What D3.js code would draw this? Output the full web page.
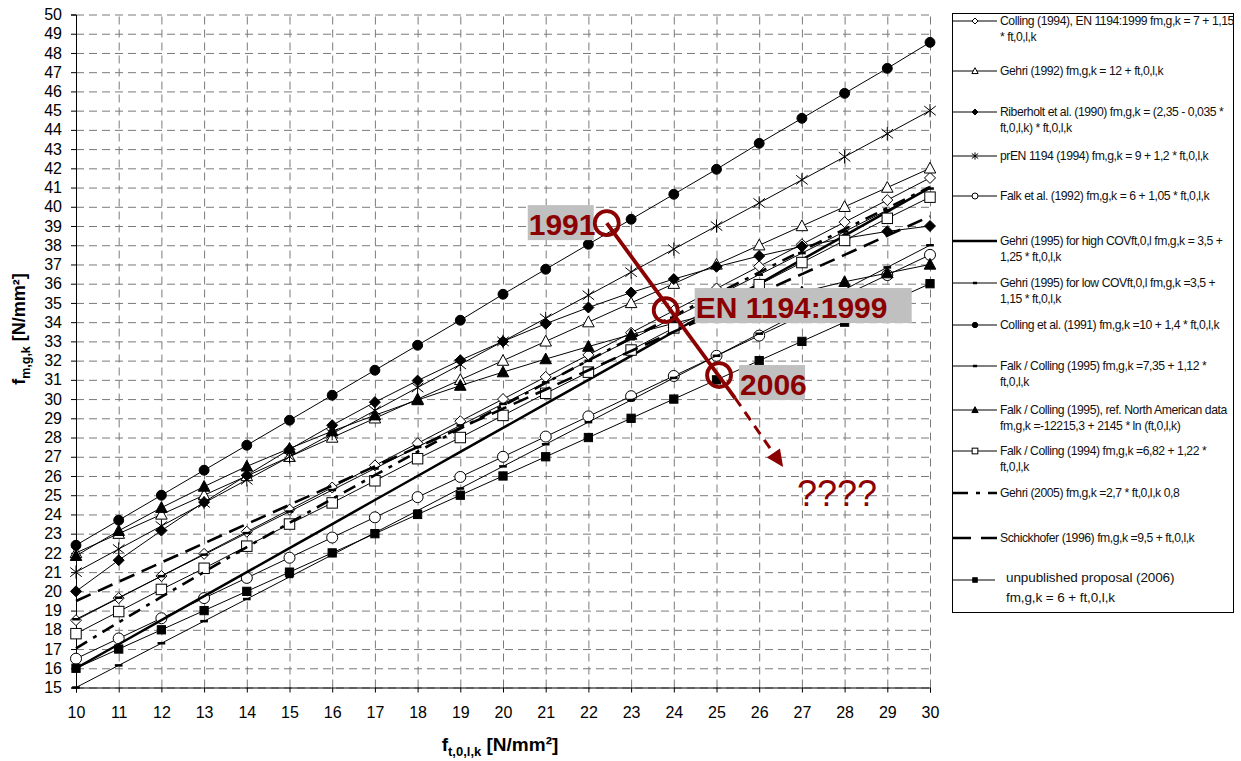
<!DOCTYPE html>
<html>
<head>
<meta charset="utf-8">
<script src="https://cdn.jsdelivr.net/npm/d3@7"></script>
<style>
body { margin: 0; background: #fff; }
text { font-family: Arial, "Liberation Sans", sans-serif; }
</style>
</head>
<body>
<svg id="chart" width="1241" height="761"></svg>
<script>

// x values (f t,0,l,k)
var xValues = [10, 11, 12, 13, 14, 15, 16, 17, 18, 19, 20,
               21, 22, 23, 24, 25, 26, 27, 28, 29, 30];

// series values
var colling1994 = [18.5, 19.65, 20.8, 21.95, 23.1, 24.25, 25.4, 26.55, 27.7, 28.85, 30,
                   31.15, 32.3, 33.45, 34.6, 35.75, 36.9, 38.05, 39.2, 40.35, 41.5];
var gehri1992 = [22, 23, 24, 25, 26, 27, 28, 29, 30, 31, 32,
                 33, 34, 35, 36, 37, 38, 39, 40, 41, 42];
var riberholt1990 = [20, 21.62, 23.16, 24.64, 26.04, 27.38, 28.64, 29.84, 30.96, 32.02, 33,
                     33.92, 34.76, 35.54, 36.24, 36.88, 37.44, 37.94, 38.36, 38.72, 39];
var prEN1994 = [21, 22.2, 23.4, 24.6, 25.8, 27, 28.2, 29.4, 30.6, 31.8, 33,
                34.2, 35.4, 36.6, 37.8, 39, 40.2, 41.4, 42.6, 43.8, 45];
var falk1992 = [16.5, 17.55, 18.6, 19.65, 20.7, 21.75, 22.8, 23.85, 24.9, 25.95, 27,
                28.05, 29.1, 30.15, 31.2, 32.25, 33.3, 34.35, 35.4, 36.45, 37.5];
var gehriHighCov = [16, 17.25, 18.5, 19.75, 21, 22.25, 23.5, 24.75, 26, 27.25, 28.5,
                    29.75, 31, 32.25, 33.5, 34.75, 36, 37.25, 38.5, 39.75, 41];
var gehriLowCov = [15, 16.15, 17.3, 18.45, 19.6, 20.75, 21.9, 23.05, 24.2, 25.35, 26.5,
                   27.65, 28.8, 29.95, 31.1, 32.25, 33.4, 34.55, 35.7, 36.85, 38];
var colling1991 = [22.4, 23.7, 25.0, 26.3, 27.6, 28.9, 30.2, 31.5, 32.8, 34.1, 35.45,
                   36.75, 38.05, 39.35, 40.65, 41.95, 43.3, 44.6, 45.9, 47.2, 48.55];
var falkColling1995 = [18.55, 19.67, 20.79, 21.91, 23.03, 24.15, 25.27, 26.39, 27.51, 28.63, 29.75,
                       30.87, 31.99, 33.11, 34.23, 35.35, 36.47, 37.59, 38.71, 39.83, 40.95];
var falkCollingNA = [21.85, 23.15, 24.35, 25.45, 26.5, 27.43, 28.33, 29.16, 29.95, 30.7, 31.4,
                     32.08, 32.73, 33.35, 33.94, 34.5, 35.04, 35.56, 36.1, 36.55, 37.0];
var falkColling1994 = [17.8, 18.95, 20.1, 21.2, 22.35, 23.5, 24.6, 25.75, 26.9, 28.0, 29.15,
                       30.3, 31.4, 32.55, 33.7, 34.85, 35.95, 37.1, 38.25, 39.4, 40.5];
var gehri2005 = [17.04, 18.39, 19.71, 21.01, 22.3, 23.56, 24.81, 26.04, 27.26, 28.47, 29.66,
                 30.84, 32.01, 33.17, 34.32, 35.46, 36.59, 37.71, 38.83, 39.93, 41.03];
var schickhofer1996 = [19.5, 20.5, 21.5, 22.5, 23.5, 24.5, 25.5, 26.5, 27.5, 28.5, 29.5,
                       30.5, 31.5, 32.5, 33.5, 34.5, 35.5, 36.5, 37.5, 38.5, 39.5];
var proposal2006 = [16, 17, 18, 19, 20, 21, 22, 23, 24, 25, 26,
                    27, 28, 29, 30, 31, 32, 33, 34, 35, 36];

var yTickValues = [15, 16, 17, 18, 19, 20, 21, 22, 23, 24, 25, 26, 27, 28, 29, 30, 31, 32,
                   33, 34, 35, 36, 37, 38, 39, 40, 41, 42, 43, 44, 45, 46, 47, 48, 49, 50];
var xTickValues = xValues;

// annotation points (data coordinates)
var annoLabels = ["1991", "EN 1194:1999", "2006"];
var annoX = [22.43, 23.81, 25.06];
var annoY = [39.15, 34.63, 31.25];
var arrowTip = [26.56, 26.47];

var plotLeft = 76, plotRight = 930, plotTop = 14.5, plotBottom = 687.5;

var x = d3.scaleLinear().domain([10, 30]).range([plotLeft, plotRight]);
var y = d3.scaleLinear().domain([15, 50]).range([plotBottom, plotTop]);

var svg = d3.select("#chart");

// grid
svg.append("g")
   .attr("transform", "translate(0," + plotBottom + ")")
   .call(d3.axisBottom(x).tickValues(xTickValues).tickSize(-(plotBottom - plotTop)).tickFormat(""))
   .call(function(g) {
       g.select(".domain").remove();
       g.selectAll("line").attr("stroke", "#7a7a7a").attr("stroke-dasharray", "8,5");
   });
svg.append("g")
   .attr("transform", "translate(" + plotLeft + ",0)")
   .call(d3.axisLeft(y).tickValues(yTickValues).tickSize(-(plotRight - plotLeft)).tickFormat(""))
   .call(function(g) {
       g.select(".domain").remove();
       g.selectAll("line").attr("stroke", "#7a7a7a").attr("stroke-dasharray", "8,5");
   });

// axes
svg.append("g")
   .attr("transform", "translate(0," + plotBottom + ")")
   .call(d3.axisBottom(x).tickValues(xTickValues).tickSize(5).tickPadding(14).tickFormat(d3.format("d")))
   .call(function(g) {
       g.select(".domain").attr("stroke", "#000");
       g.selectAll("text").attr("font-size", 16).attr("fill", "#000")
        .style("font-family", "Arial, 'Liberation Sans', sans-serif");
   });
svg.append("g")
   .attr("transform", "translate(" + plotLeft + ",0)")
   .call(d3.axisLeft(y).tickValues(yTickValues).tickSize(5).tickPadding(9).tickFormat(d3.format("d")))
   .call(function(g) {
       g.select(".domain").attr("stroke", "#000");
       g.selectAll("text").attr("font-size", 16).attr("fill", "#000")
        .style("font-family", "Arial, 'Liberation Sans', sans-serif");
   });

// axis titles
var yTitle = svg.append("text")
   .attr("transform", "translate(25,329) rotate(-90)")
   .attr("text-anchor", "middle")
   .attr("font-size", 18).attr("font-weight", "bold");
yTitle.append("tspan").text("f");
yTitle.append("tspan").attr("dy", 5).attr("font-size", 12.5).text("m,g,k");
yTitle.append("tspan").attr("dy", -5).text(" [N/mm²]");

var xTitle = svg.append("text")
   .attr("x", 500).attr("y", 751)
   .attr("text-anchor", "middle")
   .attr("font-size", 19).attr("font-weight", "bold");
xTitle.append("tspan").text("f");
xTitle.append("tspan").attr("dy", 5).attr("font-size", 13).text("t,0,l,k");
xTitle.append("tspan").attr("dy", -5).text(" [N/mm²]");

// markers
function drawMarker(g, type, s) {
    if (type === "diamondOpen" || type === "diamondFilled") {
        g.append("path").attr("d", "M0," + (-s) + "L" + s + ",0L0," + s + "L" + (-s) + ",0Z")
         .attr("fill", type === "diamondOpen" ? "#fff" : "#000").attr("stroke", "#000");
    } else if (type === "triangleOpen" || type === "triangleFilled") {
        g.append("path").attr("d", "M0," + (-s * 1.1) + "L" + (s * 1.05) + "," + (s * 0.85) + "L" + (-s * 1.05) + "," + (s * 0.85) + "Z")
         .attr("fill", type === "triangleOpen" ? "#fff" : "#000").attr("stroke", "#000");
    } else if (type === "circleOpen" || type === "circleFilled") {
        g.append("circle").attr("r", type === "circleOpen" ? s : s * 0.9)
         .attr("fill", type === "circleOpen" ? "#fff" : "#000").attr("stroke", "#000");
    } else if (type === "squareOpen" || type === "squareFilled") {
        var q = type === "squareOpen" ? s * 0.95 : s * 0.75;
        g.append("rect").attr("x", -q).attr("y", -q).attr("width", 2 * q).attr("height", 2 * q)
         .attr("fill", type === "squareOpen" ? "#fff" : "#000").attr("stroke", "#000");
    } else if (type === "star") {
        var a = s * 1.05;
        g.append("path").attr("d", "M" + (-a) + "," + (-a * 0.8) + "L" + a + "," + (a * 0.8) +
              "M" + (-a) + "," + (a * 0.8) + "L" + a + "," + (-a * 0.8) +
              "M0," + (-a * 1.15) + "L0," + (a * 1.15))
         .attr("fill", "none").attr("stroke", "#000");
    } else if (type === "dash") {
        g.append("path").attr("d", "M" + (-s * 0.7) + ",0L" + (s * 0.7) + ",0")
         .attr("stroke", "#000").attr("stroke-width", 2.5);
    }
}

var series = [
    { text: ["Colling (1994), EN 1194:1999 fm,g,k = 7 + 1,15", "* ft,0,l,k"], values: colling1994, marker: "diamondOpen", width: 1, dash: null, ly: 21 },
    { text: ["Gehri (1992) fm,g,k = 12 +  ft,0,l,k"], values: gehri1992, marker: "triangleOpen", width: 1, dash: null, ly: 71 },
    { text: ["Riberholt et al. (1990) fm,g,k = (2,35 - 0,035 *", "ft,0,l,k) * ft,0,l,k"], values: riberholt1990, marker: "diamondFilled", width: 1, dash: null, ly: 112 },
    { text: ["prEN 1194 (1994) fm,g,k = 9 + 1,2 * ft,0,l,k"], values: prEN1994, marker: "star", width: 1, dash: null, ly: 156 },
    { text: ["Falk et al. (1992) fm,g,k = 6 + 1,05 * ft,0,l,k"], values: falk1992, marker: "circleOpen", width: 1, dash: null, ly: 196 },
    { text: ["Gehri (1995) for high COVft,0,l fm,g,k = 3,5 +", "1,25 * ft,0,l,k"], values: gehriHighCov, marker: null, width: 2.5, dash: null, ly: 241 },
    { text: ["Gehri (1995) for low  COVft,0,l fm,g,k =3,5 +", "1,15 * ft,0,l,k"], values: gehriLowCov, marker: "dash", width: 1, dash: null, ly: 283 },
    { text: ["Colling et al. (1991) fm,g,k =10 + 1,4 * ft,0,l,k"], values: colling1991, marker: "circleFilled", width: 1, dash: null, ly: 325 },
    { text: ["Falk / Colling (1995) fm,g,k =7,35 + 1,12 *", "ft,0,l,k"], values: falkColling1995, marker: "dash", width: 1, dash: null, ly: 366 },
    { text: ["Falk / Colling (1995), ref. North American data", "fm,g,k =-12215,3 + 2145 * ln (ft,0,l,k)"], values: falkCollingNA, marker: "triangleFilled", width: 1, dash: null, ly: 410 },
    { text: ["Falk / Colling (1994) fm,g,k =6,82 + 1,22 *", "ft,0,l,k"], values: falkColling1994, marker: "squareOpen", width: 1, dash: null, ly: 451 },
    { text: ["Gehri (2005) fm,g,k =2,7 * ft,0,l,k 0,8"], values: gehri2005, marker: null, width: 2.6, dash: "13,7,4,7", ly: 493 },
    { text: ["Schickhofer (1996) fm,g,k =9,5 + ft,0,l,k"], values: schickhofer1996, marker: null, width: 2.6, dash: "16,8", ly: 538 },
    { text: ["unpublished proposal (2006)", "fm,g,k = 6 + ft,0,l,k"], values: proposal2006, marker: "squareFilled", width: 1, dash: null, ly: 577 }
];

var line = d3.line()
    .x(function(d, i) { return x(xValues[i]); })
    .y(function(d) { return y(d); });

var plot = svg.append("g");
series.forEach(function(s) {
    plot.append("path")
        .attr("d", line(s.values))
        .attr("fill", "none")
        .attr("stroke", "#000")
        .attr("stroke-width", s.width)
        .attr("stroke-dasharray", s.dash);
    if (s.marker) {
        s.values.forEach(function(v, i) {
            var g = plot.append("g").attr("transform", "translate(" + x(xValues[i]) + "," + y(v) + ")");
            drawMarker(g, s.marker, 5.5);
        });
    }
});

// legend
var legend = svg.append("g");
legend.append("rect")
    .attr("x", 952.5).attr("y", 13.5).attr("width", 281).attr("height", 599)
    .attr("fill", "#fff").attr("stroke", "#000");

series.forEach(function(s, k) {
    var last = k === series.length - 1;
    var legDash = s.dash === "13,7,4,7" ? "15,8,4,8" : (s.dash ? "18,10" : null);
    legend.append("line")
        .attr("x1", 953).attr("x2", last ? 995 : 997)
        .attr("y1", s.ly + (last ? 3 : 0)).attr("y2", s.ly + (last ? 3 : 0))
        .attr("stroke", "#000").attr("stroke-width", s.width)
        .attr("stroke-dasharray", legDash);
    if (s.marker) {
        var g = legend.append("g").attr("transform", "translate(975," + (s.ly + (last ? 3 : 0)) + ")");
        drawMarker(g, s.marker, 3);
    }
    s.text.forEach(function(t, j) {
        legend.append("text")
            .attr("x", last ? 1006 : 1000)
            .attr("y", s.ly + (last ? j * 20 : j * 16))
            .attr("dy", "0.35em")
            .attr("font-size", last ? 13.5 : 12.2)
            .attr("letter-spacing", last ? "-0.1px" : "-0.45px")
            .attr("fill", "#111")
            .text(t);
    });
});

// annotation
var red = "#8b0000";
var anno = svg.append("g");
var p0 = [x(annoX[0]), y(annoY[0])];
var p2 = [x(annoX[2]), y(annoY[2])];
var tip = [x(arrowTip[0]), y(arrowTip[1])];
var ux = (tip[0] - p2[0]), uy = (tip[1] - p2[1]);
var len = Math.sqrt(ux * ux + uy * uy);
ux /= len; uy /= len;
var solidEnd = [p2[0] + ux * 28, p2[1] + uy * 28];
var headBase = [tip[0] - ux * 17, tip[1] - uy * 17];

anno.append("line")
    .attr("x1", p0[0]).attr("y1", p0[1]).attr("x2", solidEnd[0]).attr("y2", solidEnd[1])
    .attr("stroke", red).attr("stroke-width", 3.8);
anno.append("line")
    .attr("x1", solidEnd[0]).attr("y1", solidEnd[1]).attr("x2", headBase[0]).attr("y2", headBase[1])
    .attr("stroke", red).attr("stroke-width", 3).attr("stroke-dasharray", "10,7");
anno.append("path")
    .attr("d", "M" + tip[0] + "," + tip[1] +
               "L" + (headBase[0] - uy * 8) + "," + (headBase[1] + ux * 8) +
               "L" + (headBase[0] + uy * 8) + "," + (headBase[1] - ux * 8) + "Z")
    .attr("fill", red);

// label boxes: offsets relative to each circle
var boxDx = [-79, 29, 20];
var boxDy = [-18, -22, -10];
var boxW = [66, 217, 66];
annoLabels.forEach(function(lbl, i) {
    var cx = x(annoX[i]), cy = y(annoY[i]);
    anno.append("rect")
        .attr("x", cx + boxDx[i]).attr("y", cy + boxDy[i])
        .attr("width", boxW[i]).attr("height", 35)
        .attr("fill", "#c0c0c0");
    anno.append("text")
        .attr("x", cx + boxDx[i] + 1).attr("y", cy + boxDy[i] + 30)
        .attr("font-size", 30).attr("font-weight", "bold")
        .attr("fill", red)
        .text(lbl);
});
annoLabels.forEach(function(lbl, i) {
    anno.append("circle")
        .attr("cx", x(annoX[i])).attr("cy", y(annoY[i])).attr("r", 12)
        .attr("fill", "none").attr("stroke", red).attr("stroke-width", 3.8);
});

anno.append("text")
    .attr("x", 797).attr("y", 506)
    .attr("font-size", 36)
    .attr("fill", red)
    .text("????");

</script>
</body>
</html>
